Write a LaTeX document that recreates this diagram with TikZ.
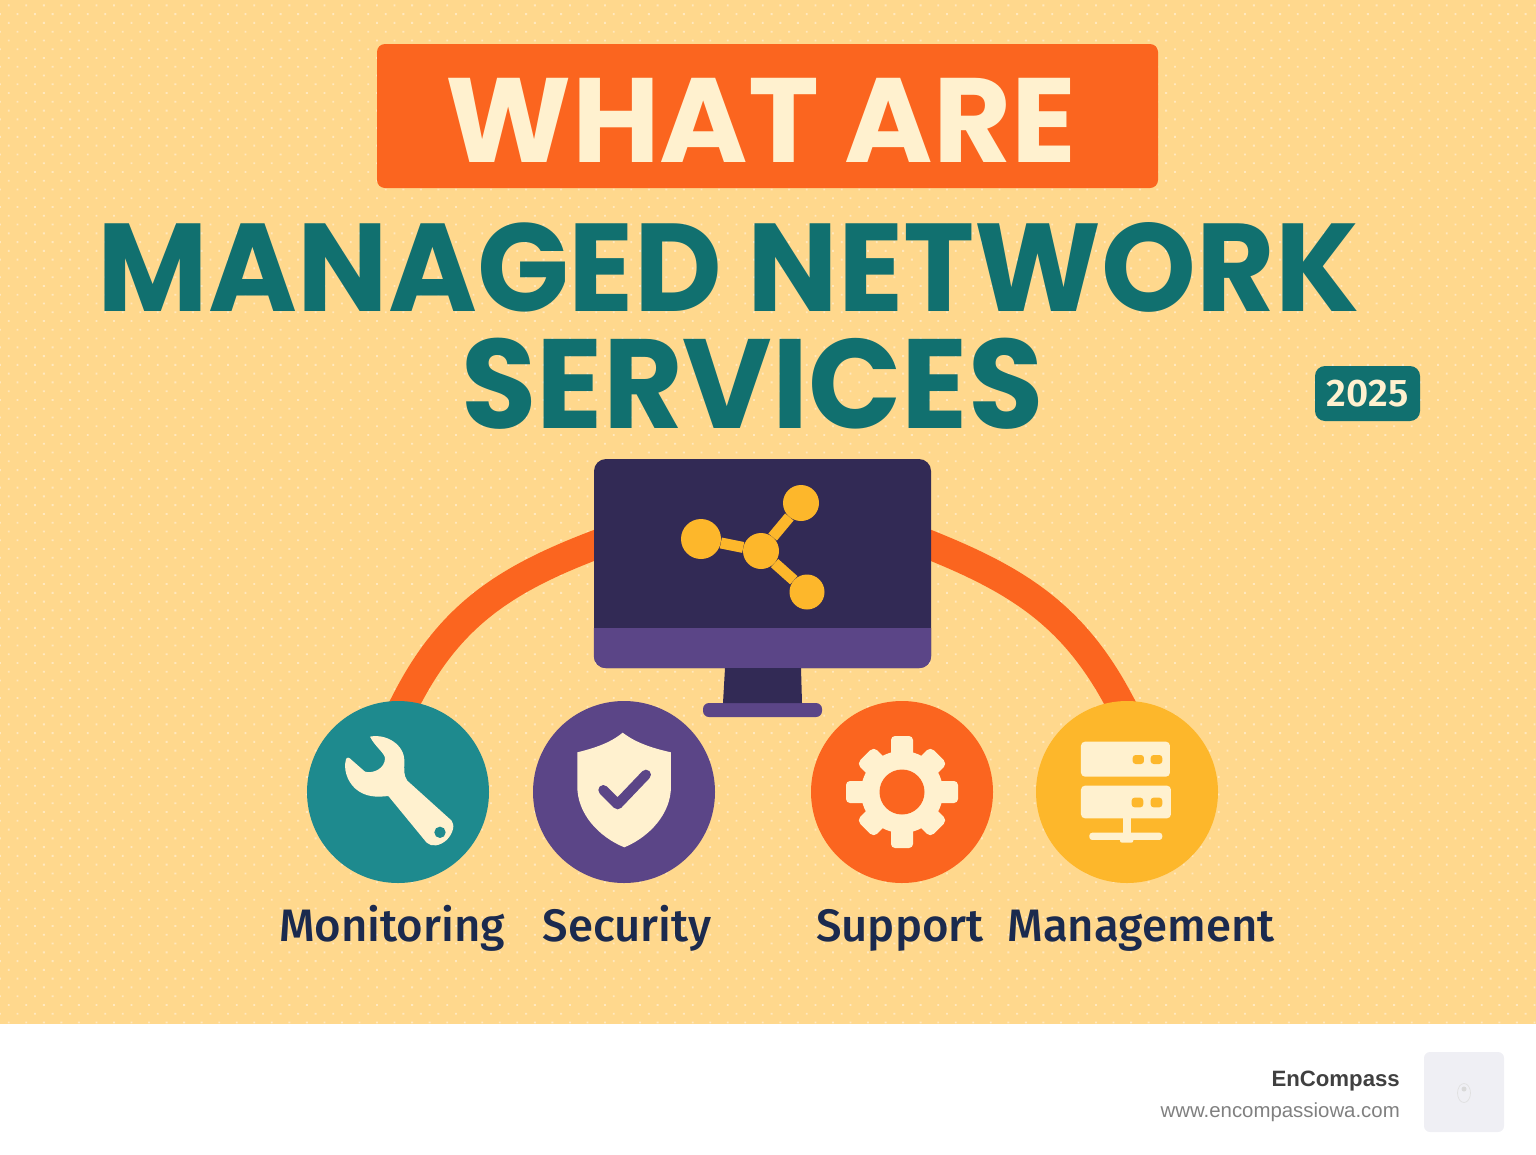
\documentclass[tikz,border=0pt]{standalone}
\usepackage{fontspec}
\usepackage{tikz}
\usetikzlibrary{positioning, backgrounds, patterns.meta, shapes.geometric}
\newfontfamily\titlefont[UprightFont=*-Bold]{Poppins}
\newfontfamily\narrowfont[UprightFont=*-Bold, FakeStretch=0.965]{Poppins}
\newfontfamily\labelfont[UprightFont=* Medium]{Fira Sans}
\newfontfamily\yearfont[UprightFont=* SemiBold]{Fira Sans}
\newfontfamily\footfont{Liberation Sans}
\definecolor{sand}{HTML}{FFD88D}
\definecolor{dotsand}{HTML}{FFE8BE}
\definecolor{cream}{HTML}{FFF1CF}
\definecolor{blaze}{HTML}{FB651F}
\definecolor{deepteal}{HTML}{11706F}
\definecolor{teal}{HTML}{1E8A8E}
\definecolor{grape}{HTML}{5B4587}
\definecolor{night}{HTML}{322A55}
\definecolor{amber}{HTML}{FDB72B}
\definecolor{ink}{HTML}{1B2A4E}
\definecolor{logogray}{HTML}{EFEFF4}

\begin{document}
\begin{tikzpicture} [x = 1pt, y = -1pt, node distance = 226pt, on grid, auto,
    badgecircle/.style = {circle, minimum size = 182pt, inner sep = 0pt},
    servicelabel/.style = {anchor = base, text = ink, inner sep = 0pt, font = \labelfont\fontsize{45.5}{45.5}\selectfont},
    hubdot/.style = {circle, fill = amber, inner sep = 0pt},
    hubline/.style = {draw = amber, line width = 11pt},
    link/.style = {draw = blaze, line width = 29pt, line cap = rect},
    pill/.style = {fill = amber, rounded corners = 3pt}]
    \useasboundingbox (0,0) rectangle (1536,1154);

    % title
    \node (banner) [fill = blaze, rounded corners = 8pt, minimum width = 781pt, minimum height = 144pt, inner sep = 0pt] at (767.5,116) {};
    \node (what) [anchor = base, text = cream, inner sep = 0pt, font = \titlefont\fontsize{120}{120}\selectfont] at (761,162) {WHAT ARE};
    \node (managed) [anchor = base, text = deepteal, inner sep = 0pt, font = \narrowfont\fontsize{125}{125}\selectfont] at (728.5,311) {MANAGED NETWORK};
    \node (services) [anchor = base, text = deepteal, inner sep = 0pt, font = \narrowfont\fontsize{127}{127}\selectfont] at (752.5,428) {SERVICES};
    \node (year) [fill = deepteal, text = cream, rounded corners = 10pt, minimum width = 105pt, minimum height = 55pt, inner sep = 0pt, font = \yearfont\fontsize{38.5}{38.5}\selectfont] at (1367.5,393.5) {2025};

    % monitor
    \node (screen) [fill = night, rounded corners = 12pt, minimum width = 337pt, minimum height = 209pt, inner sep = 0pt] at (762.5,563.5) {};
    \fill[grape] ([yshift = 40pt]screen.south west) -- ([yshift = 40pt]screen.south east) [rounded corners = 12pt] -- (screen.south east) -- (screen.south west) [sharp corners] -- cycle;
    \node (foot) [fill = grape, rounded corners = 6pt, minimum width = 119pt, minimum height = 14pt, inner sep = 0pt] at (762.5,710) {};
    \fill[night] (725,668) -- (801,668) -- (802,703) -- (723,703) -- cycle;

    % network sign on the screen
    \node (hub) [hubdot, minimum size = 36pt] at (761,551) {};
    \node (hubl) [hubdot, minimum size = 40pt] at (701,539) {};
    \node (hubt) [hubdot, minimum size = 36pt] at (801,503) {};
    \node (hubr) [hubdot, minimum size = 35pt] at (807,592) {};
    \path[hubline] (hub) edge (hubl) (hub) edge (hubt) (hub) edge (hubr);

    % services
    \node (monitoring) [badgecircle, fill = teal] at (398,792) {};
    \node (security) [badgecircle, fill = grape, right = of monitoring] {};
    \node (support) [badgecircle, fill = blaze, right = 278pt of security] {};
    \node (management) [badgecircle, fill = amber, right = 225pt of support] {};

    \node (monitoringt) [servicelabel] at (392,941) {Monitoring};
    \node (securityt) [servicelabel] at (627,941) {Security};
    \node (supportt) [servicelabel] at (900,941) {Support};
    \node (managementt) [servicelabel] at (1141,941) {Management};

    % wrench
    \begin{scope}[shift = {(290,690)}, scale = 0.3333]
        \fill[cream] (240,140) .. controls (290,130) and (345,165) .. (343,215) .. controls (343,240) and (340,255) .. (352,272) -- (485,392) .. controls (495,405) and (490,430) .. (470,450) .. controls (450,468) and (425,472) .. (410,458) -- (295,318) .. controls (260,322) and (225,322) .. (195,295) .. controls (170,272) and (160,235) .. (168,208) .. controls (170,200) and (178,202) .. (185,210) -- (225,245) .. controls (250,252) and (285,235) .. (285,205) .. controls (285,190) and (255,170) .. (240,140) -- cycle;
        \fill[teal] (450,427) circle (17);
    \end{scope}

    % shield
    \begin{scope}[shift = {(290,690)}, scale = 0.3333]
        \fill[cream] (998,128) .. controls (1040,160) and (1090,175) .. (1143,187) -- (1143,290) .. controls (1143,370) and (1080,440) .. (1003,472) .. controls (925,440) and (862,370) .. (862,290) -- (862,187) .. controls (910,175) and (960,160) .. (998,128) -- cycle;
        \draw[grape, line width = 10pt, line cap = round, line join = round] (940,300) -- (983,343) -- (1068,254);
    \end{scope}

    % gear
    \fill[cream] (support) circle (41);
    \foreach \tooth in {0, 90, 180, 270}
        \fill[cream, rounded corners = 4pt, rotate around = {\tooth:(support)}] ([xshift = -11pt]support) rectangle ([xshift = 11pt, yshift = 56pt]support);
    \foreach \tooth in {45, 135, 225, 315}
        \fill[cream, rounded corners = 5pt, rotate around = {\tooth:(support)}] ([xshift = -12pt]support) rectangle ([xshift = 12pt, yshift = 52pt]support);
    \fill[blaze] (support) circle (22.5);

    % server
    \begin{scope}[shift = {(800,690)}, scale = 0.3333]
        \fill[cream, rounded corners = 4pt] (843,155) rectangle (1110,260);
        \fill[cream, rounded corners = 4pt] (843,287) rectangle (1113,385);
        \fill[pill] (998,195) rectangle (1032,222);
        \fill[pill] (1052,195) rectangle (1087,222);
        \fill[pill] (995,323) rectangle (1030,352);
        \fill[pill] (1052,323) rectangle (1087,352);
        \fill[cream] (968,385) rectangle (993,430);
        \fill[cream, rounded corners = 3pt] (868,428) rectangle (1087,450);
        \fill[cream, rounded corners = 2pt] (960,445) rectangle (1000,458);
    \end{scope}

    % footer
    \node (brand) [anchor = base east, inner sep = 0pt, text = black!75, font = \footfont\bfseries\fontsize{22.2}{22.2}\selectfont] at (1400,1086) {EnCompass};
    \node (site) [anchor = base east, inner sep = 0pt, text = black!50, font = \footfont\fontsize{20.4}{20.4}\selectfont] at (1400,1117) {www.encompassiowa.com};
    \node (logo) [fill = logogray, rounded corners = 6pt, minimum size = 80pt, inner sep = 0pt] at (1464,1092) {};
    \node (bear) [draw = black!12, ellipse, line width = 0.7pt, minimum width = 13pt, minimum height = 19pt, inner sep = 0pt] at (1464,1093) {};
    \node (nose) [fill = black!15, circle, minimum size = 5pt, inner sep = 0pt] at (1464,1089) {};

    \begin{pgfonlayer}{background}
        \fill[sand] (0,0) rectangle (1536,1024);
        \fill[pattern = {Dots[distance = 12.4pt, angle = 45, radius = 1.3pt]}, pattern color = dotsand] (0,0) rectangle (1536,1023);
        \path[link] ([yshift = 18pt]screen.west) edge [out = 201, in = 63] (monitoring.85);
        \path[link] ([yshift = 18pt]screen.east) edge [out = -22, in = 118] (management.95);
    \end{pgfonlayer}
\end{tikzpicture}
\end{document}
